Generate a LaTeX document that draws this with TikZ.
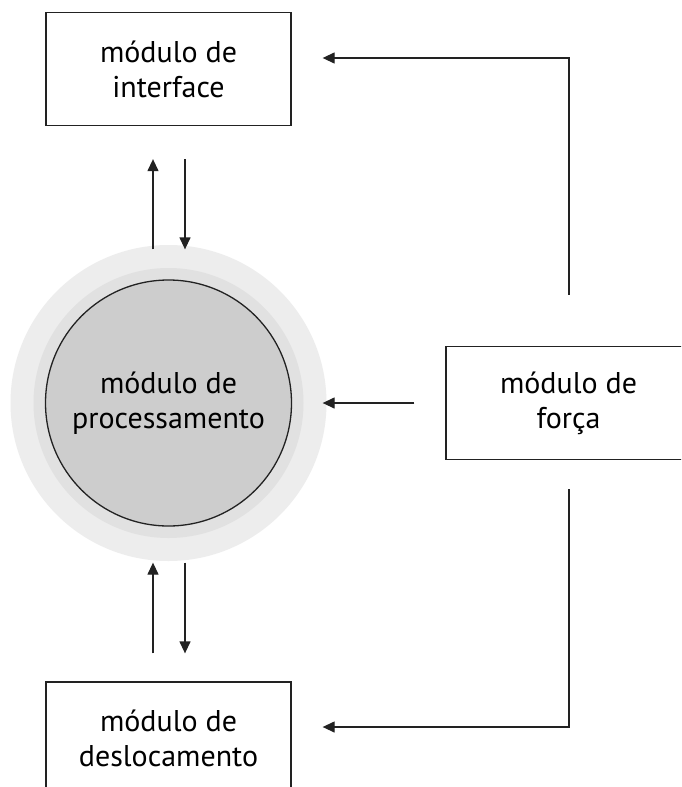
\documentclass[tikz,border=0pt]{standalone}
\usepackage{fontspec}
\setmainfont{PT Sans}
\usetikzlibrary{arrows.meta}
\definecolor{ringout}{HTML}{EDEDED}
\definecolor{ringmid}{HTML}{E1E1E1}
\definecolor{core}{HTML}{CDCDCD}
\definecolor{ink}{HTML}{222222}
\newcommand{\lblfont}{\fontsize{30pt}{35pt}\selectfont}
\tikzset{
  modbox/.style={draw=ink, line width=1.3pt, minimum width=245pt, minimum height=113pt,
    align=center, font=\lblfont, inner sep=0pt},
  arr/.style={draw=ink, line width=1.3pt, -{Triangle[length=12pt,width=11pt]}},
}
\begin{document}
\begin{tikzpicture}[x=1pt,y=-1pt]
\clip (0,0) rectangle (681,787);
\fill[white] (0,0) rectangle (681,787);

% halo rings around the processing module
\fill[ringout] (168.5,403) circle[radius=158];
\fill[ringmid] (168.5,403) circle[radius=135];

% modules
\node[modbox] (iface) at (168.5,69) {módulo de\\interface};
\node[circle, draw=ink, line width=1.3pt, fill=core, minimum size=246pt, inner sep=0pt,
      align=center, font=\lblfont] (proc) at (168.5,403) {módulo de\\processamento};
\node[modbox] (forca) at (568.5,403) {módulo de\\força};
\node[modbox] (desl) at (168.5,738.5) {módulo de\\deslocamento};

% links between processing and interface
\draw[arr] ([xshift=-15.5pt,yshift=30pt]proc.north) -- ([xshift=-15.5pt,yshift=-33pt]iface.south);
\draw[arr] ([xshift=16.5pt,yshift=-33pt]iface.south) -- ([xshift=16.5pt,yshift=30pt]proc.north);

% links between processing and displacement
\draw[arr] ([xshift=-15.5pt,yshift=28pt]desl.north) -- ([xshift=-15.5pt,yshift=-36pt]proc.south);
\draw[arr] ([xshift=16.5pt,yshift=-36pt]proc.south) -- ([xshift=16.5pt,yshift=28pt]desl.north);

% force module outputs
\draw[arr] ([xshift=0.5pt,yshift=51pt]forca.north) |- ([xshift=31pt,yshift=11pt]iface.east);
\draw[arr] ([xshift=-31pt]forca.west) -- ([xshift=30.5pt]proc.east);
\draw[arr] ([xshift=0.5pt,yshift=-29pt]forca.south) |- ([xshift=31pt,yshift=11.5pt]desl.east);
\end{tikzpicture}
\end{document}
